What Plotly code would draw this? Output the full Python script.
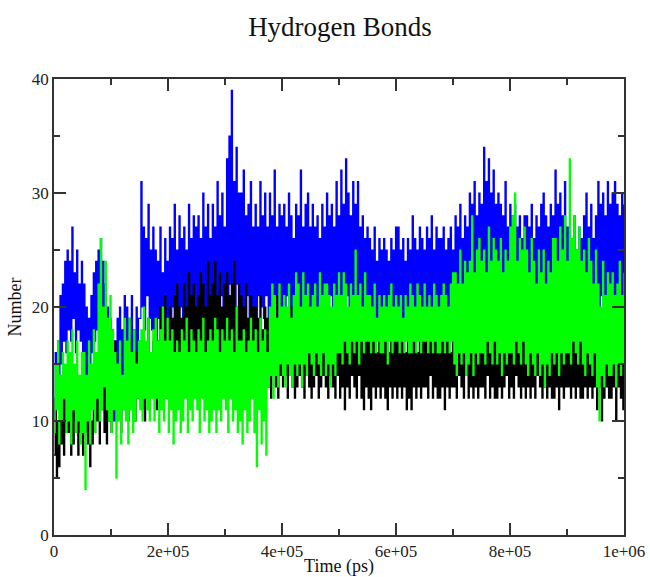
import numpy as np
import plotly.graph_objects as go

# Hydrogen bond counts (12 samples per 25,000 ps)
blue = [
    10, 16, 12, 17, 14, 21, 15, 22, 17, 24, 16, 25,
    18, 24, 17, 27, 19, 23, 16, 25, 18, 22, 17, 24,
    15, 22, 14, 20, 13, 19, 15, 21, 16, 23, 17, 24,
    18, 25, 17, 26, 19, 24, 16, 22, 14, 20, 12, 19,
    11, 18, 10, 17, 13, 19, 12, 20, 14, 18, 13, 21,
    14, 20, 13, 19, 15, 21, 13, 18, 14, 20, 15, 19,
    19, 31, 20, 27, 18, 26, 21, 29, 19, 25, 18, 27,
    17, 25, 16, 24, 19, 27, 18, 23, 17, 26, 19, 24,
    19, 27, 18, 26, 20, 29, 19, 25, 18, 28, 20, 26,
    18, 27, 20, 25, 19, 29, 21, 26, 18, 28, 20, 27,
    20, 28, 19, 26, 21, 30, 20, 27, 19, 29, 21, 26,
    19, 29, 21, 27, 20, 31, 19, 28, 21, 30, 20, 27,
    20, 33, 19, 35, 22, 39, 21, 31, 20, 34, 22, 30,
    19, 30, 20, 32, 18, 28, 21, 29, 19, 31, 20, 27,
    20, 29, 19, 27, 21, 31, 20, 28, 19, 30, 21, 27,
    19, 30, 20, 28, 18, 32, 21, 27, 19, 29, 20, 28,
    20, 29, 19, 27, 21, 30, 20, 28, 19, 26, 21, 29,
    18, 28, 20, 32, 19, 27, 21, 29, 18, 30, 20, 27,
    19, 29, 18, 27, 20, 28, 19, 26, 21, 29, 20, 27,
    20, 30, 19, 28, 21, 29, 20, 27, 19, 31, 21, 28,
    19, 32, 20, 29, 18, 33, 21, 30, 19, 28, 20, 31,
    20, 29, 19, 31, 18, 27, 20, 28, 19, 26, 21, 27,
    18, 26, 19, 25, 17, 27, 19, 24, 18, 26, 20, 25,
    19, 26, 18, 25, 20, 24, 19, 26, 18, 25, 19, 27,
    18, 27, 19, 25, 17, 26, 19, 24, 18, 26, 19, 25,
    18, 28, 19, 26, 18, 25, 20, 27, 18, 26, 19, 25,
    19, 27, 18, 26, 20, 28, 19, 25, 18, 27, 20, 26,
    18, 26, 19, 27, 17, 25, 19, 26, 18, 27, 19, 25,
    19, 28, 20, 27, 19, 29, 20, 26, 21, 28, 19, 27,
    20, 30, 19, 29, 21, 31, 20, 28, 21, 30, 19, 29,
    20, 34, 21, 31, 19, 33, 22, 30, 20, 32, 21, 29,
    19, 30, 20, 29, 21, 28, 19, 31, 20, 27, 21, 29,
    19, 28, 20, 29, 18, 27, 20, 28, 19, 26, 21, 28,
    20, 28, 19, 27, 21, 29, 20, 26, 19, 28, 21, 27,
    19, 29, 20, 30, 18, 28, 20, 27, 19, 29, 21, 28,
    20, 32, 19, 29, 21, 30, 19, 28, 20, 31, 21, 27,
    18, 27, 19, 26, 17, 28, 19, 25, 18, 27, 20, 26,
    19, 28, 20, 30, 18, 27, 20, 29, 19, 26, 21, 28,
    20, 31, 19, 29, 21, 30, 20, 28, 19, 31, 21, 29,
    19, 30, 20, 31, 21, 29, 20, 28, 19, 30, 21, 29,
]
black = [
    7, 12, 5, 10, 6, 11, 8, 13, 7, 12, 9, 11,
    9, 14, 7, 12, 8, 13, 10, 14, 7, 11, 9, 13,
    7, 12, 9, 14, 8, 11, 6, 10, 8, 13, 9, 12,
    10, 15, 8, 13, 11, 16, 9, 14, 8, 12, 10, 15,
    9, 14, 11, 17, 10, 15, 12, 16, 9, 13, 11, 15,
    11, 16, 10, 17, 12, 15, 11, 14, 10, 16, 12, 17,
    12, 17, 11, 18, 10, 16, 12, 19, 11, 15, 13, 17,
    12, 19, 11, 17, 13, 20, 12, 18, 14, 21, 12, 19,
    13, 20, 12, 19, 14, 21, 13, 22, 15, 20, 14, 19,
    14, 22, 13, 20, 15, 23, 14, 21, 16, 22, 15, 20,
    14, 21, 15, 23, 13, 22, 15, 20, 14, 24, 16, 21,
    15, 22, 14, 24, 16, 21, 15, 23, 14, 20, 16, 22,
    14, 23, 15, 21, 13, 22, 15, 24, 14, 20, 16, 22,
    14, 21, 13, 20, 15, 22, 14, 19, 13, 21, 15, 20,
    12, 20, 13, 19, 14, 21, 12, 18, 13, 20, 14, 19,
    13, 19, 12, 20, 14, 18, 13, 21, 12, 19, 14, 18,
    13, 20, 14, 19, 12, 18, 14, 20, 13, 17, 12, 19,
    13, 19, 14, 20, 13, 18, 12, 19, 14, 17, 13, 20,
    12, 19, 13, 18, 14, 20, 12, 17, 13, 19, 14, 18,
    13, 18, 12, 19, 14, 17, 13, 20, 12, 18, 14, 19,
    12, 18, 13, 19, 11, 17, 13, 18, 12, 19, 14, 17,
    13, 17, 12, 19, 14, 18, 12, 17, 11, 18, 13, 19,
    12, 18, 11, 17, 13, 19, 12, 16, 13, 18, 12, 17,
    13, 17, 12, 18, 11, 16, 13, 19, 12, 17, 13, 18,
    12, 18, 13, 17, 12, 19, 13, 16, 11, 18, 12, 17,
    11, 17, 13, 18, 12, 16, 13, 19, 12, 17, 13, 18,
    13, 18, 12, 17, 14, 19, 12, 18, 13, 17, 12, 19,
    12, 17, 13, 18, 11, 17, 13, 19, 12, 16, 13, 18,
    13, 18, 12, 19, 14, 17, 13, 18, 12, 17, 14, 19,
    12, 18, 13, 17, 12, 19, 13, 18, 12, 17, 13, 18,
    13, 19, 12, 18, 14, 17, 12, 19, 13, 18, 12, 17,
    12, 18, 13, 20, 12, 17, 13, 18, 14, 19, 12, 17,
    13, 18, 12, 17, 14, 19, 13, 17, 12, 18, 13, 19,
    12, 19, 13, 18, 12, 17, 13, 19, 12, 18, 14, 17,
    13, 18, 12, 19, 13, 17, 12, 18, 13, 19, 12, 17,
    12, 17, 13, 18, 11, 19, 13, 17, 12, 18, 13, 19,
    13, 18, 12, 17, 13, 18, 12, 19, 13, 17, 12, 18,
    12, 19, 13, 18, 12, 17, 13, 18, 12, 19, 13, 17,
    11, 18, 13, 19, 10, 17, 12, 18, 13, 19, 12, 17,
    12, 20, 13, 18, 10, 19, 13, 17, 12, 20, 11, 18,
]
green = [
    9, 15, 11, 17, 8, 14, 10, 16, 12, 15, 9, 17,
    10, 16, 8, 18, 11, 15, 9, 17, 10, 14, 8, 16,
    9, 16, 4, 14, 10, 17, 8, 15, 11, 18, 9, 16,
    12, 22, 10, 26, 11, 20, 13, 24, 11, 19, 10, 21,
    9, 18, 11, 16, 5, 15, 10, 17, 8, 14, 11, 19,
    10, 17, 8, 19, 11, 16, 9, 18, 10, 15, 12, 17,
    11, 18, 10, 20, 12, 17, 11, 19, 10, 16, 12, 18,
    10, 19, 12, 17, 9, 18, 11, 20, 10, 17, 12, 19,
    9, 17, 11, 18, 8, 16, 10, 17, 11, 16, 9, 18,
    10, 17, 12, 19, 9, 16, 11, 18, 10, 17, 12, 16,
    11, 18, 9, 17, 12, 19, 10, 16, 11, 17, 9, 18,
    10, 17, 11, 19, 9, 18, 11, 16, 10, 18, 12, 17,
    11, 19, 9, 17, 12, 18, 10, 16, 11, 20, 9, 17,
    10, 17, 8, 18, 11, 16, 9, 17, 10, 19, 12, 17,
    9, 18, 6, 16, 11, 19, 8, 17, 10, 18, 7, 16,
    13, 20, 14, 22, 12, 21, 14, 19, 13, 22, 15, 20,
    14, 21, 13, 20, 15, 22, 14, 19, 13, 21, 15, 23,
    14, 22, 15, 20, 13, 23, 15, 21, 14, 22, 16, 20,
    15, 21, 14, 22, 16, 20, 15, 23, 14, 21, 16, 22,
    14, 22, 15, 21, 13, 20, 15, 22, 14, 21, 16, 23,
    16, 21, 15, 23, 17, 22, 16, 20, 15, 22, 17, 21,
    16, 25, 17, 21, 15, 22, 17, 20, 16, 23, 17, 21,
    17, 21, 16, 20, 17, 22, 16, 19, 17, 21, 16, 20,
    16, 21, 17, 20, 15, 21, 17, 22, 16, 20, 17, 21,
    17, 20, 16, 21, 17, 19, 16, 21, 17, 20, 16, 22,
    16, 21, 17, 20, 16, 22, 17, 21, 16, 20, 17, 22,
    17, 20, 16, 21, 17, 20, 16, 22, 17, 21, 16, 20,
    16, 21, 17, 22, 16, 21, 17, 20, 16, 22, 17, 23,
    15, 23, 14, 22, 16, 25, 15, 22, 16, 24, 14, 23,
    15, 24, 16, 28, 14, 23, 16, 25, 15, 26, 16, 24,
    16, 25, 15, 23, 17, 27, 16, 24, 15, 26, 17, 25,
    15, 24, 16, 26, 14, 23, 16, 25, 15, 24, 16, 27,
    16, 28, 15, 30, 17, 24, 16, 26, 15, 25, 17, 27,
    15, 25, 14, 23, 16, 26, 15, 24, 14, 22, 16, 25,
    14, 23, 15, 25, 13, 22, 15, 24, 14, 23, 16, 26,
    15, 26, 16, 24, 14, 27, 16, 25, 15, 28, 16, 24,
    16, 33, 15, 26, 17, 28, 16, 25, 15, 27, 17, 24,
    15, 25, 14, 23, 16, 26, 15, 24, 14, 22, 16, 25,
    13, 22, 10, 20, 14, 24, 13, 21, 15, 23, 14, 22,
    14, 23, 15, 21, 13, 22, 15, 24, 14, 21, 15, 23,
]
time_ps = np.linspace(0, 1e6, len(blue))

x_tick_vals = [0, 2e5, 4e5, 6e5, 8e5, 1e6]
x_tick_text = ["0", "2e+05", "4e+05", "6e+05", "8e+05", "1e+06"]
y_tick_vals = [0, 10, 20, 30, 40]

fig = go.Figure()
for vals, col in [(blue, "#0000ff"), (black, "#000000"), (green, "#00ff00")]:
    fig.add_trace(go.Scatter(x=time_ps, y=vals, mode="lines",
                             line=dict(color=col, width=1.2, shape="hv"), showlegend=False,
                             hoverinfo="skip"))

font_family = "Liberation Serif, Times New Roman, serif"
axis_common = dict(showgrid=False, zeroline=False, showline=True, linecolor="#333333",
                   linewidth=1.5, mirror="allticks", ticks="inside", tickcolor="#333333",
                   tickwidth=1.5, ticklen=12, automargin=False,
                   tickfont=dict(family=font_family, size=17, color="#222222"))

fig.update_layout(
    width=650, height=577,
    margin=dict(l=54, r=26, t=79, b=42),
    paper_bgcolor="white", plot_bgcolor="white",
    title=dict(text="Hydrogen Bonds", x=340 / 650, xanchor="center", y=1 - 27 / 577,
               yanchor="middle", font=dict(family=font_family, size=27, color="#111111")),
    xaxis=dict(range=[0, 1e6], tickvals=x_tick_vals, ticktext=x_tick_text,
               minor=dict(ticks="inside", dtick=1e5, ticklen=6, tickwidth=1.5, tickcolor="#333333"),
               title=dict(text="Time (ps)", standoff=5,
                          font=dict(family=font_family, size=18, color="#111111")),
               **axis_common),
    yaxis=dict(range=[0, 40], tickvals=y_tick_vals,
               minor=dict(ticks="inside", dtick=5, ticklen=6, tickwidth=1.5, tickcolor="#333333"),
               title=dict(text="Number", standoff=6,
                          font=dict(family=font_family, size=18, color="#111111")),
               **axis_common),
)

fig.write_html("out.html")
